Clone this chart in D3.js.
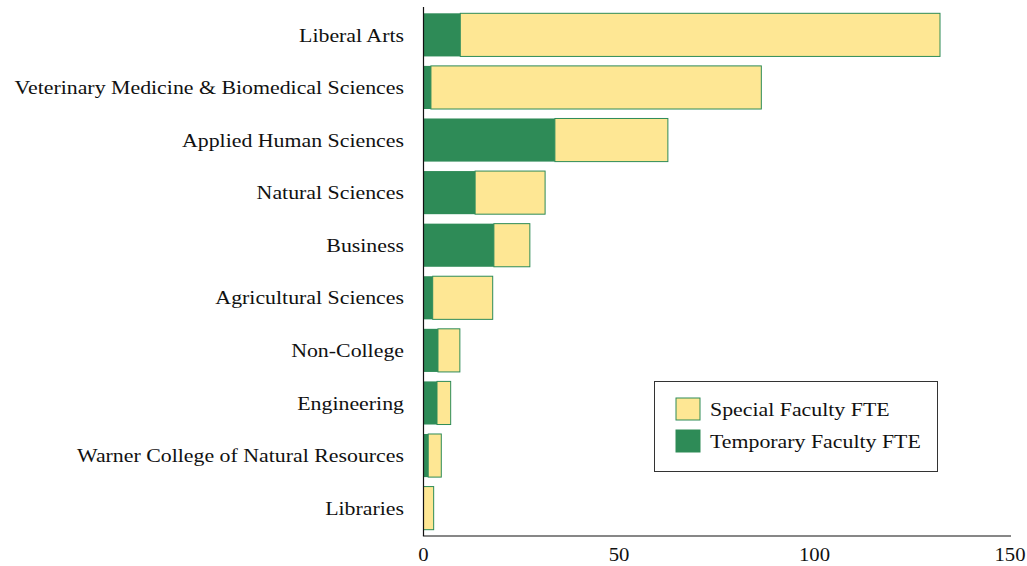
<!DOCTYPE html>
<html>
<head>
<meta charset="utf-8">
<script src="https://cdn.jsdelivr.net/npm/d3@7"></script>
<style>
  body { margin: 0; background: #fff; }
  text { font-family: "Liberation Serif", "Times New Roman", serif; fill: #111; }
</style>
</head>
<body>
<div id="chart"></div>
<script>
// data
const colleges = [
    'Liberal Arts',
    'Veterinary Medicine & Biomedical Sciences',
    'Applied Human Sciences',
    'Natural Sciences',
    'Business',
    'Agricultural Sciences',
    'Non-College',
    'Engineering',
    'Warner College of Natural Resources',
    'Libraries'
];
const temporaryFTE = [9.4, 1.9, 33.6, 13.2, 18.0, 2.35, 3.7, 3.45, 1.2, 0];
const specialFTE = [122.7, 84.5, 28.9, 17.9, 9.2, 15.35, 5.6, 3.5, 3.35, 2.6];
const xTicks = [0, 50, 100, 150];

const width = 1027;
const height = 566;
const margin = { top: 7, right: 17, bottom: 30, left: 423.5 };
// serif font in the original is wider than Liberation Serif
const stretch = 1.15;

const svg = d3.select('#chart')
    .append('svg')
    .attr('width', width)
    .attr('height', height);

const x = d3.scaleLinear()
    .domain([0, 150])
    .range([margin.left, width - margin.right]);

const y = d3.scaleBand()
    .domain(colleges)
    .range([margin.top, height - margin.bottom])
    .paddingInner(0.18)
    .paddingOuter(0.12);

const rows = colleges.map((c, i) => ({
    name: c,
    temp: temporaryFTE[i],
    special: specialFTE[i]
}));

// special (yellow) bars, drawn from end of temporary
svg.append('g').selectAll('rect')
    .data(rows)
    .join('rect')
    .attr('x', d => x(d.temp))
    .attr('y', d => y(d.name))
    .attr('width', d => x(d.temp + d.special) - x(d.temp))
    .attr('height', y.bandwidth())
    .attr('fill', '#fee794')
    .attr('stroke', '#2e8b57')
    .attr('stroke-width', 1);

// temporary (green) bars
svg.append('g').selectAll('rect')
    .data(rows.filter(d => d.temp > 0))
    .join('rect')
    .attr('x', x(0))
    .attr('y', d => y(d.name))
    .attr('width', d => x(d.temp) - x(0))
    .attr('height', y.bandwidth())
    .attr('fill', '#2e8b57');

// axes
svg.append('line')
    .attr('x1', x(0)).attr('x2', x(0))
    .attr('y1', margin.top).attr('y2', height - margin.bottom)
    .attr('stroke', '#111').attr('stroke-width', 1.2);

svg.append('line')
    .attr('x1', x(0) - 0.6).attr('x2', x(150) + 1)
    .attr('y1', height - margin.bottom).attr('y2', height - margin.bottom)
    .attr('stroke', '#111').attr('stroke-width', 1.2);

svg.append('g').selectAll('text')
    .data(xTicks)
    .join('text')
    .attr('transform', d => `translate(${x(d)}, ${height - margin.bottom + 25}) scale(${stretch}, 1)`)
    .attr('text-anchor', 'middle')
    .style('font-size', '18px')
    .text(d => d);

// category labels
svg.append('g').selectAll('text')
    .data(colleges)
    .join('text')
    .attr('transform', d => `translate(404, ${y(d) + y.bandwidth() / 2}) scale(${stretch}, 1)`)
    .attr('dy', '0.35em')
    .attr('text-anchor', 'end')
    .style('font-size', '19px')
    .text(d => d);

// legend
const legend = svg.append('g');
legend.append('rect')
    .attr('x', 654.5).attr('y', 381.5)
    .attr('width', 283).attr('height', 90)
    .attr('fill', '#fff').attr('stroke', '#333').attr('stroke-width', 1);

const legendItems = [
    { label: 'Special Faculty FTE', color: '#fee794' },
    { label: 'Temporary Faculty FTE', color: '#2e8b57' }
];

const items = legend.selectAll('.item')
    .data(legendItems)
    .join('g')
    .attr('class', 'item')
    .attr('transform', (d, i) => `translate(676, ${398 + i * 32})`);

items.append('rect')
    .attr('width', 24).attr('height', 22)
    .attr('fill', d => d.color)
    .attr('stroke', '#2e8b57').attr('stroke-width', 1);

items.append('text')
    .attr('transform', `translate(34, 11) scale(${stretch}, 1)`)
    .attr('dy', '0.35em')
    .style('font-size', '19px')
    .text(d => d.label);
</script>
</body>
</html>
